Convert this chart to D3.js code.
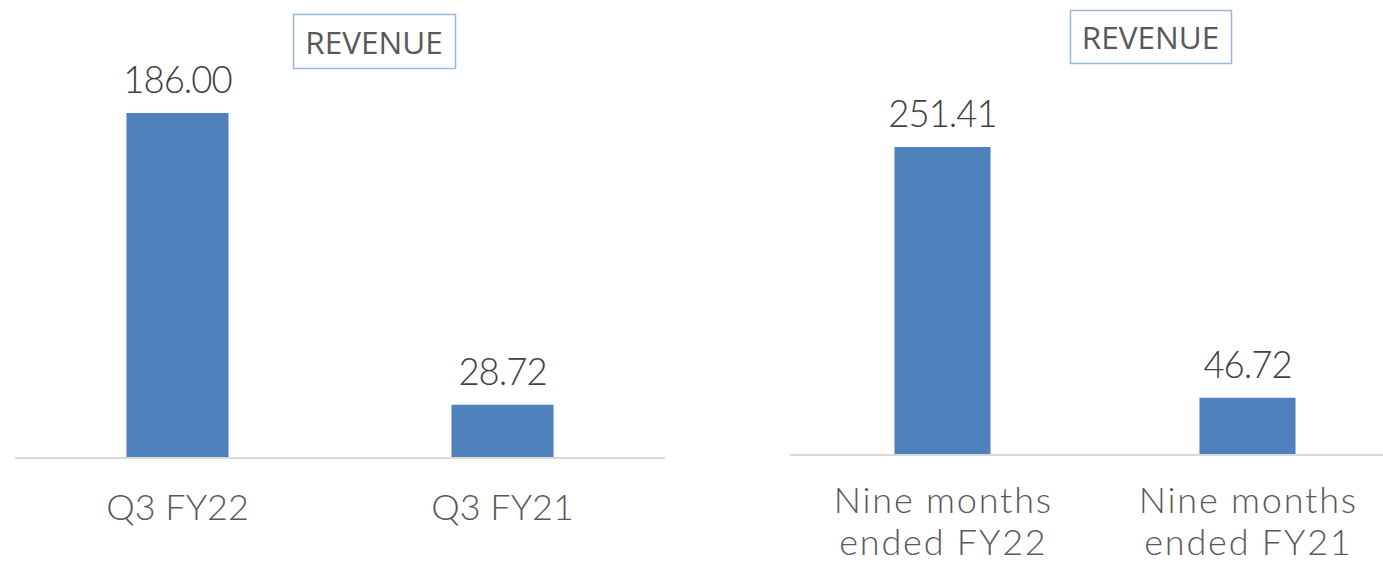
<!DOCTYPE html>
<html>
<head>
<meta charset="utf-8">
<script src="https://cdn.jsdelivr.net/npm/d3@7"></script>
<style>
  html, body { margin: 0; padding: 0; background: #fff; }
  svg { display: block; }
</style>
</head>
<body>
<svg id="chart" width="1383" height="564"></svg>
<script>
// ---- data ----
const leftTitle = "REVENUE";
const leftCategories = ["Q3 FY22", "Q3 FY21"];
const leftValues = [186.00, 28.72];

const rightTitle = "REVENUE";
const rightCategories = [["Nine months", "ended FY22"], ["Nine months", "ended FY21"]];
const rightValues = [251.41, 46.72];

// ---- styles ----
const barColor = "#4f81bd";
const axisColor = "#d9d9d9";
const catColor = "#595959";
const valColor = "#404040";
const boxColor = "#9bb7dc";
const labelFont = "Lato, 'Liberation Sans', sans-serif";
const titleFont = "'Open Sans', 'Noto Sans', sans-serif";

const svg = d3.select("#chart");

function panel(cfg) {
  const g = svg.append("g");
  const keys = cfg.categories.map((c, i) => i);
  const x = d3.scaleBand().domain(keys).range(cfg.xRange).padding(0);
  const y = d3.scaleLinear().domain(cfg.yDomain).range(cfg.yRange);
  const bw = x.bandwidth() * cfg.barFrac;

  // baseline axis
  g.append("line")
    .attr("x1", cfg.xRange[0]).attr("x2", cfg.xRange[1])
    .attr("y1", y(0)).attr("y2", y(0))
    .attr("stroke", axisColor).attr("stroke-width", 2);

  // bars
  g.selectAll("rect.bar").data(cfg.values).join("rect")
    .attr("class", "bar")
    .attr("x", (d, i) => x(i) + x.bandwidth() / 2 - bw / 2)
    .attr("width", bw)
    .attr("y", d => y(d))
    .attr("height", d => y(0) - y(d) - 1)
    .attr("fill", barColor);

  // value labels
  g.selectAll("text.val").data(cfg.values).join("text")
    .attr("class", "val")
    .attr("x", (d, i) => x(i) + x.bandwidth() / 2)
    .attr("y", d => y(d) - 20)
    .attr("text-anchor", "middle")
    .attr("font-family", labelFont)
    .attr("font-weight", 300)
    .attr("font-size", 36.5)
    .attr("letter-spacing", -1)
    .attr("fill", valColor)
    .text(d => d.toFixed(2));

  // category labels
  cfg.categories.forEach((c, i) => {
    const lines = Array.isArray(c) ? c : [c];
    const t = g.append("text")
      .attr("x", x(i) + x.bandwidth() / 2)
      .attr("y", cfg.catY)
      .attr("text-anchor", "middle")
      .attr("font-family", labelFont)
      .attr("font-weight", 300)
      .attr("font-size", 36)
      .attr("letter-spacing", cfg.catSpacing)
      .attr("fill", catColor);
    lines.forEach((ln, j) => {
      t.append("tspan")
        .attr("x", x(i) + x.bandwidth() / 2 + cfg.catSpacing / 2)
        .attr("dy", j === 0 ? 0 : cfg.lineGap)
        .text(ln);
    });
  });

  // title box
  const tb = cfg.titleBox;
  g.append("rect")
    .attr("x", tb[0] + 0.5).attr("y", tb[1] + 0.5)
    .attr("width", tb[2] - tb[0]).attr("height", tb[3] - tb[1])
    .attr("fill", "#fff").attr("stroke", boxColor).attr("stroke-width", 1.5);
  g.append("text")
    .attr("x", (tb[0] + tb[2]) / 2)
    .attr("y", cfg.titleBaseline)
    .attr("text-anchor", "middle")
    .attr("font-family", titleFont)
    .attr("font-size", 31.5)
    .attr("fill", catColor)
    .text(cfg.title);
}

panel({
  title: leftTitle,
  categories: leftCategories,
  values: leftValues,
  xRange: [15, 665],
  yDomain: [0, 200],
  yRange: [458, 87],
  barFrac: 0.314,
  catY: 520,
  catSpacing: 0,
  lineGap: 42,
  titleBox: [293, 14, 455, 68],
  titleBaseline: 54
});

panel({
  title: rightTitle,
  categories: rightCategories,
  values: rightValues,
  xRange: [790, 1400],
  yDomain: [0, 300],
  yRange: [455, 87.5],
  barFrac: 0.315,
  catY: 513,
  catSpacing: 1.8,
  lineGap: 42,
  titleBox: [1070, 10, 1231, 63],
  titleBaseline: 49
});
</script>
</body>
</html>
